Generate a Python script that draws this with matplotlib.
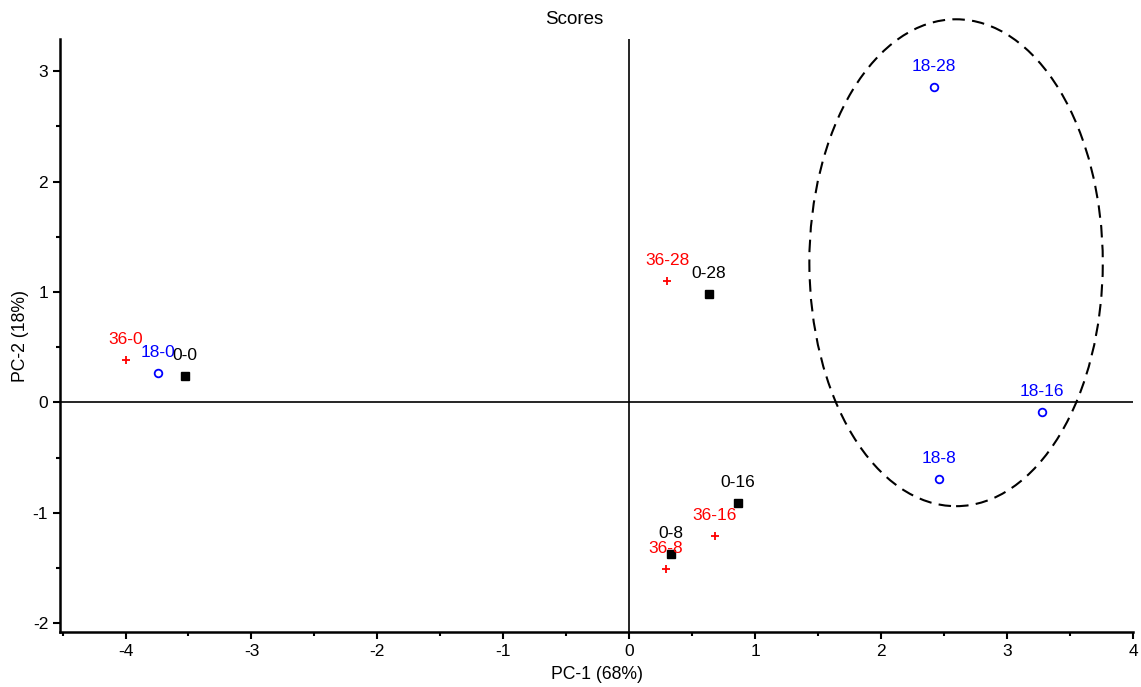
import numpy as np
import matplotlib.pyplot as plt
from matplotlib.patches import Ellipse
from matplotlib.ticker import MultipleLocator

plt.rcParams['font.family'] = ['Liberation Sans', 'DejaVu Sans']
plt.rcParams['axes.unicode_minus'] = False

# scores per group (PC-1, PC-2)
labels_0 = ["0-0", "0-8", "0-16", "0-28"]
pc1_0 = [-3.53, 0.33, 0.86, 0.63]
pc2_0 = [0.24, -1.37, -0.91, 0.98]

labels_18 = ["18-0", "18-8", "18-16", "18-28"]
pc1_18 = [-3.74, 2.46, 3.28, 2.42]
pc2_18 = [0.27, -0.69, -0.09, 2.86]

labels_36 = ["36-0", "36-8", "36-16", "36-28"]
pc1_36 = [-4.0, 0.29, 0.68, 0.30]
pc2_36 = [0.38, -1.51, -1.21, 1.10]

fig = plt.figure(figsize=(11.41, 6.87), dpi=100)
ax = fig.add_axes([0.0526, 0.080, 0.9404, 0.863])

ax.axhline(0, color='black', lw=1.2, zorder=1)
ax.axvline(0, color='black', lw=1.2, zorder=1)

ax.plot(pc1_0, pc2_0, 's', color='black', ms=6, ls='none', zorder=3)
ax.plot(pc1_18, pc2_18, 'o', mfc='none', mec='blue', mew=1.3, ms=5.5, ls='none', zorder=3)
ax.plot(pc1_36, pc2_36, '+', color='red', mew=1.3, ms=5.5, ls='none', zorder=3)

for labs, xs, ys, c in [(labels_36, pc1_36, pc2_36, 'red'),
                        (labels_18, pc1_18, pc2_18, 'blue'),
                        (labels_0, pc1_0, pc2_0, 'black')]:
    for lab, x, y in zip(labs, xs, ys):
        ax.annotate(lab, (x, y), xytext=(0, 11.5), textcoords='offset points',
                    ha='center', va='baseline', color=c, fontsize=12.5, zorder=4)

ell = Ellipse((2.595, 1.265), 2.33, 4.41, fill=False, ls=(0, (6, 3.5)),
              lw=1.5, color='black', clip_on=False)
ax.add_patch(ell)

ax.set_xlim(-4.52, 4.0)
ax.set_ylim(-2.08, 3.29)
ax.xaxis.set_major_locator(MultipleLocator(1))
ax.xaxis.set_minor_locator(MultipleLocator(0.5))
ax.yaxis.set_major_locator(MultipleLocator(1))
ax.yaxis.set_minor_locator(MultipleLocator(0.5))
ax.tick_params(which='both', direction='out', width=1.5, labelsize=12.5)
ax.tick_params(which='major', length=5)
ax.tick_params(which='minor', length=3)
for s in ['top', 'right']:
    ax.spines[s].set_visible(False)
for s in ['left', 'bottom']:
    ax.spines[s].set_linewidth(1.8)

ax.set_xlabel('PC-1 (68%)', fontsize=12.7, labelpad=5)
ax.set_ylabel('PC-2 (18%)', fontsize=12.7, labelpad=3)
ax.set_title('Scores', fontsize=13.5, pad=11, x=0.479)

fig.savefig('out.png', dpi=100)
